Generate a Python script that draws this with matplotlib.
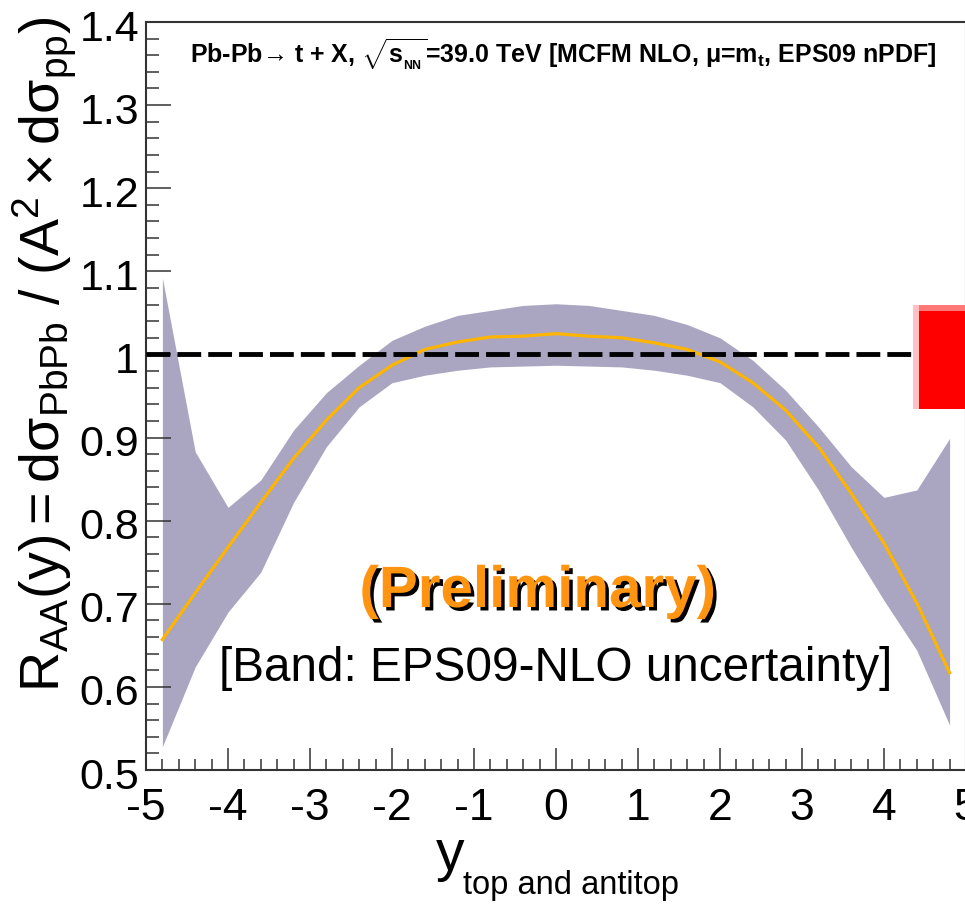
import numpy as np
import matplotlib
matplotlib.use("Agg")
import matplotlib.pyplot as plt
from matplotlib.patches import Rectangle
from matplotlib.ticker import MultipleLocator, FormatStrFormatter
from matplotlib.transforms import ScaledTranslation
import matplotlib.patheffects as pe

plt.rcParams["font.family"] = ["Liberation Sans", "DejaVu Sans"]
plt.rcParams["mathtext.fontset"] = "custom"
plt.rcParams["mathtext.rm"] = "Liberation Sans"
plt.rcParams["mathtext.it"] = "Liberation Sans:italic"
plt.rcParams["mathtext.bf"] = "Liberation Sans:bold"

# rapidity bins (centres)
rap = [-4.8, -4.4, -4.0, -3.6, -3.2, -2.8, -2.4, -2.0, -1.6, -1.2, -0.8, -0.4, 0.0,
       0.4, 0.8, 1.2, 1.6, 2.0, 2.4, 2.8, 3.2, 3.6, 4.0, 4.4, 4.8]
# central R_AA
raa = [0.657, 0.713, 0.768, 0.822, 0.875, 0.921, 0.960, 0.987, 1.006, 1.015, 1.021, 1.022, 1.025,
       1.022, 1.020, 1.014, 1.006, 0.991, 0.966, 0.933, 0.889, 0.833, 0.773, 0.701, 0.617]
# EPS09 band
raa_up = [1.092, 0.883, 0.816, 0.849, 0.909, 0.954, 0.987, 1.017, 1.034, 1.047, 1.053, 1.059, 1.061,
          1.059, 1.053, 1.047, 1.036, 1.020, 0.993, 0.957, 0.913, 0.865, 0.828, 0.837, 0.899]
raa_lo = [0.528, 0.624, 0.690, 0.738, 0.822, 0.889, 0.937, 0.966, 0.975, 0.981, 0.985, 0.986, 0.987,
          0.986, 0.985, 0.981, 0.975, 0.966, 0.937, 0.897, 0.837, 0.768, 0.704, 0.644, 0.554]
# normalisation box (red) at right edge
norm_x = [4.354, 4.427]
norm_y = [0.9343, 1.0522, 1.0594]

W, H = 965, 913
fig = plt.figure(figsize=(W / 100, H / 100), dpi=100)
ax = fig.add_axes([146 / W, 1 - 770 / H, (966 - 146) / W, (770 - 22) / H])

ax.fill_between(rap, raa_lo, raa_up, color="#aaa6c2", lw=0, zorder=1)
ax.plot(rap, raa, color="#ffb400", lw=2.3, zorder=2)
ax.axhline(1.0, color="black", lw=3.5, dashes=(4.9, 1.45), zorder=3)

ax.add_patch(Rectangle((norm_x[0], norm_y[0]), 1.0, norm_y[2] - norm_y[0],
                       facecolor="#ffc2c2", lw=0, zorder=4))
ax.add_patch(Rectangle((norm_x[1], norm_y[0]), 1.0, norm_y[2] - norm_y[0],
                       facecolor="#ff7878", lw=0, zorder=4))
ax.add_patch(Rectangle((norm_x[1], norm_y[0]), 1.0, norm_y[1] - norm_y[0],
                       facecolor="#ff0000", lw=0, zorder=5))

ax.set_xlim(-5, 5)
ax.set_ylim(0.5, 1.4)

ax.xaxis.set_major_locator(MultipleLocator(1))
ax.xaxis.set_minor_locator(MultipleLocator(0.2))
ax.yaxis.set_major_locator(MultipleLocator(0.1))
ax.yaxis.set_minor_locator(MultipleLocator(0.02))
ax.yaxis.set_major_formatter(FormatStrFormatter("%g"))
ax.xaxis.set_major_formatter(FormatStrFormatter("%g"))

ax.tick_params(axis="both", which="both", direction="in", colors="#333333",
               top=False, right=False, width=1.1)
ax.tick_params(axis="y", which="major", length=18, labelsize=31, pad=5, labelcolor="black")
ax.tick_params(axis="y", which="minor", length=9.4)
ax.tick_params(axis="x", which="major", length=16, labelsize=32, pad=13, labelcolor="black")
ax.tick_params(axis="x", which="minor", length=8)

# ROOT draws the y labels a little below the tick
shift = ScaledTranslation(0, -3 / 100, fig.dpi_scale_trans)
for t in ax.yaxis.get_major_ticks():
    t.label1.set_transform(t.label1.get_transform() + shift)

for sp in ax.spines.values():
    sp.set_linewidth(1.5)
    sp.set_color("#333333")

fig.text(44 / W, 1 - 17 / H,
         r"$\mathregular{R_{AA}(y) = d\sigma_{PbPb}\ /\ (A^{2} \times d\sigma_{pp})}$",
         rotation=90, ha="center", va="top", fontsize=40)

fig.text(436 / W, 1 - 870 / H, "y", ha="left", va="baseline", fontsize=41)
fig.text(463 / W, 1 - 894 / H, "top and antitop", ha="left", va="baseline", fontsize=23.5)

ax.text(190 / W, 1 - 54 / H,
        "Pb-Pb\u2192 t + X, $\\sqrt{\\mathregular{s_{_{NN}}}}$=39.0 TeV [MCFM NLO, \u03bc=m$\\mathregular{_t}$, EPS09 nPDF]",
        transform=fig.transFigure, ha="left", va="center", fontsize=18,
        fontweight="bold")

ax.text(538 / W, 1 - 592 / H, "(Preliminary)", transform=fig.transFigure,
        ha="center", va="center", fontsize=42, fontweight="bold", color="#ff9410",
        path_effects=[pe.withSimplePatchShadow(offset=(2.5, -2.5), shadow_rgbFace="black", alpha=1.0)],
        zorder=6)
ax.text(556 / W, 1 - 668 / H, "[Band: EPS09-NLO uncertainty]", transform=fig.transFigure,
        ha="center", va="center", fontsize=34.4, color="black", zorder=6)

fig.savefig("out.png", dpi=100)
